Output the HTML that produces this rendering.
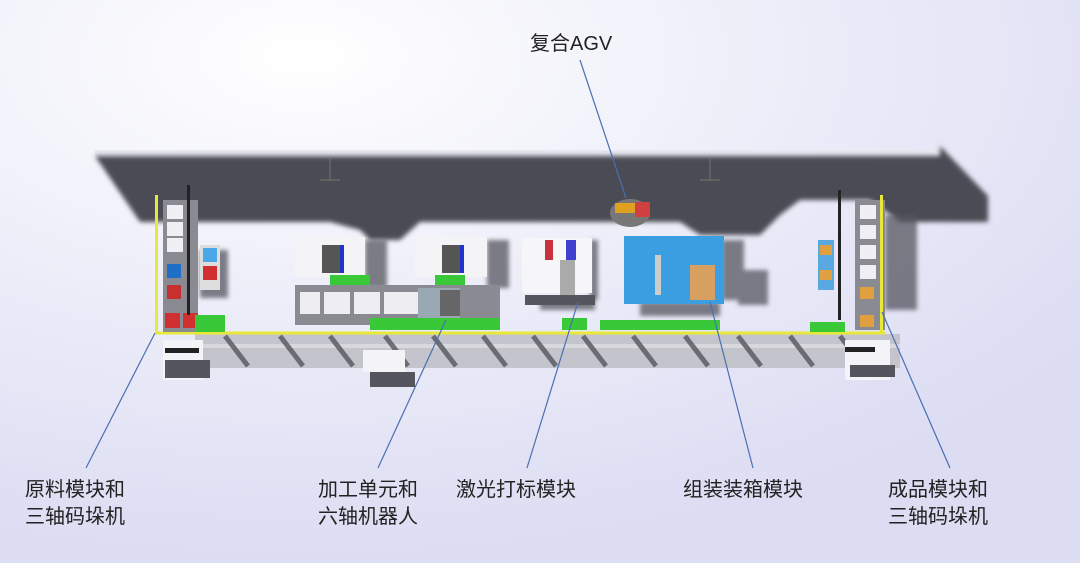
<!DOCTYPE html>
<html><head><meta charset="utf-8"><style>
html,body{margin:0;padding:0;}
body{width:1080px;height:563px;overflow:hidden;font-family:"Liberation Sans","Noto Sans CJK SC",sans-serif;}
</style></head><body>
<svg width="1080" height="563" viewBox="0 0 1080 563" xmlns="http://www.w3.org/2000/svg">
<defs>
<radialGradient id="bg" cx="0.28" cy="0.1" r="0.9">
<stop offset="0" stop-color="#ffffff"/><stop offset="0.45" stop-color="#eeeff9"/><stop offset="1" stop-color="#dcdcf3"/>
</radialGradient>
<filter id="bl" x="-10%" y="-10%" width="120%" height="130%"><feGaussianBlur stdDeviation="2.5"/></filter>
<filter id="bl2" x="-20%" y="-20%" width="140%" height="140%"><feGaussianBlur stdDeviation="2"/></filter>
</defs>
<rect width="1080" height="563" fill="url(#bg)"/>
<rect x="95" y="150" width="845" height="6" fill="#e8e8f0"/>
<polygon filter="url(#bl)" fill="#4b4b55" points="95,156 940,156 940,146 988,196 988,222 900,222 870,200 800,200 780,215 760,235 700,235 680,222 560,222 480,222 420,222 400,240 370,240 360,230 330,222 140,222"/>
<g stroke="#6b7e6b" stroke-width="1">
<line x1="330" y1="158" x2="330" y2="180"/><line x1="320" y1="180" x2="340" y2="180"/>
<line x1="710" y1="158" x2="710" y2="180"/><line x1="700" y1="180" x2="720" y2="180"/>
</g>
<!-- machine shadows -->
<g fill="#55555e" opacity="0.75" filter="url(#bl2)">
<rect x="200" y="250" width="28" height="48"/>
<rect x="365" y="240" width="22" height="48"/>
<rect x="487" y="240" width="22" height="48"/>
<rect x="590" y="240" width="8" height="60"/>
<rect x="540" y="300" width="55" height="10"/>
<rect x="722" y="240" width="22" height="60"/>
<rect x="738" y="270" width="30" height="35"/>
<rect x="640" y="302" width="80" height="14"/>
<rect x="885" y="215" width="32" height="95"/>
</g>
<!-- conveyor -->
<rect x="195" y="334" width="705" height="34" fill="#c4c4cc"/>
<rect x="195" y="344" width="705" height="4" fill="#d8d8de"/>
<g stroke="#55555e" stroke-width="5" opacity="0.8">
<line x1="225" y1="336" x2="248" y2="366"/><line x1="280" y1="336" x2="303" y2="366"/><line x1="330" y1="336" x2="353" y2="366"/>
<line x1="385" y1="336" x2="408" y2="366"/><line x1="433" y1="336" x2="456" y2="366"/><line x1="483" y1="336" x2="506" y2="366"/>
<line x1="533" y1="336" x2="556" y2="366"/><line x1="583" y1="336" x2="606" y2="366"/><line x1="633" y1="336" x2="656" y2="366"/>
<line x1="685" y1="336" x2="708" y2="366"/><line x1="738" y1="336" x2="761" y2="366"/><line x1="790" y1="336" x2="813" y2="366"/>
<line x1="840" y1="336" x2="863" y2="366"/>
</g>
<rect x="163" y="340" width="40" height="40" fill="#f4f4f8"/><rect x="165" y="348" width="34" height="5" fill="#222"/>
<rect x="165" y="360" width="45" height="18" fill="#55555e"/>
<rect x="363" y="350" width="42" height="22" fill="#f4f4f8"/><rect x="370" y="372" width="45" height="15" fill="#55555e"/>
<rect x="845" y="340" width="45" height="40" fill="#f4f4f8"/><rect x="845" y="347" width="30" height="5" fill="#222"/>
<rect x="850" y="365" width="45" height="12" fill="#55555e"/>
<line x1="155" y1="333" x2="885" y2="333" stroke="#e8e83a" stroke-width="3"/>
<!-- left stacker -->
<rect x="163" y="200" width="35" height="132" fill="#8a8a92"/>
<rect x="155" y="195" width="3" height="138" fill="#e8e83a"/>
<g fill="#f0f0f4"><rect x="167" y="205" width="16" height="14"/><rect x="167" y="222" width="16" height="14"/><rect x="167" y="238" width="16" height="14"/></g>
<rect x="167" y="264" width="14" height="14" fill="#1f6fc8"/><rect x="167" y="285" width="14" height="14" fill="#c83030"/>
<rect x="165" y="313" width="15" height="15" fill="#d03030"/><rect x="183" y="313" width="15" height="15" fill="#d03030"/>
<rect x="187" y="185" width="3" height="130" fill="#222"/>
<rect x="200" y="245" width="20" height="45" fill="#ddd"/><rect x="203" y="248" width="14" height="14" fill="#4aa8e8"/><rect x="203" y="266" width="14" height="14" fill="#d03030"/>
<rect x="195" y="315" width="30" height="17" fill="#38c838"/>
<!-- CNC machines -->
<rect x="295" y="237" width="70" height="40" fill="#f4f4f6"/><rect x="322" y="245" width="20" height="28" fill="#555"/><rect x="340" y="245" width="4" height="28" fill="#2233cc"/>
<rect x="415" y="237" width="72" height="40" fill="#f4f4f6"/><rect x="442" y="245" width="20" height="28" fill="#555"/><rect x="460" y="245" width="4" height="28" fill="#2233cc"/>
<rect x="330" y="275" width="40" height="10" fill="#38c838"/><rect x="435" y="275" width="30" height="10" fill="#38c838"/>
<!-- robot rail -->
<rect x="295" y="285" width="205" height="40" fill="#8a8a92"/>
<rect x="300" y="292" width="120" height="22" fill="#eeeef2"/>
<g fill="#8a8a92"><rect x="320" y="292" width="4" height="22"/><rect x="350" y="292" width="4" height="22"/><rect x="380" y="292" width="4" height="22"/></g>
<rect x="418" y="288" width="42" height="32" fill="#9aa8b4"/><rect x="440" y="290" width="20" height="26" fill="#666"/>
<rect x="370" y="318" width="130" height="12" fill="#38c838"/>
<!-- laser -->
<rect x="522" y="238" width="70" height="55" fill="#f6f6f8"/>
<rect x="545" y="240" width="8" height="20" fill="#c83040"/><rect x="566" y="240" width="10" height="20" fill="#4040d0"/>
<rect x="560" y="260" width="15" height="35" fill="#aaa"/>
<rect x="525" y="295" width="70" height="10" fill="#55555e"/>
<rect x="562" y="318" width="25" height="12" fill="#38c838"/>
<!-- AGV -->
<ellipse cx="630" cy="213" rx="20" ry="14" fill="#777"/>
<rect x="615" y="203" width="20" height="10" fill="#e0a020"/><rect x="635" y="202" width="15" height="15" fill="#d04040"/>
<!-- assembly -->
<rect x="624" y="236" width="100" height="68" fill="#3a9ee0"/>
<rect x="690" y="265" width="25" height="35" fill="#d8a060"/>
<rect x="655" y="255" width="6" height="40" fill="#ccc"/>
<rect x="600" y="320" width="120" height="10" fill="#38c838"/>
<!-- right stacker -->
<rect x="838" y="190" width="3" height="130" fill="#222"/>
<rect x="855" y="200" width="30" height="130" fill="#8a8a92"/>
<g fill="#f0f0f4"><rect x="860" y="205" width="16" height="14"/><rect x="860" y="225" width="16" height="14"/><rect x="860" y="245" width="16" height="14"/><rect x="860" y="265" width="16" height="14"/></g>
<rect x="860" y="287" width="14" height="12" fill="#e0a040"/><rect x="860" y="315" width="14" height="12" fill="#e0a040"/>
<rect x="880" y="195" width="3" height="138" fill="#e8e83a"/>
<rect x="818" y="240" width="16" height="50" fill="#5aa8e0"/><rect x="820" y="245" width="12" height="10" fill="#e0a040"/><rect x="820" y="270" width="12" height="10" fill="#e0a040"/>
<rect x="810" y="322" width="35" height="10" fill="#38c838"/>
<!-- leader lines -->
<g stroke="#4a6fb0" stroke-width="1.2">
<line x1="580" y1="60" x2="626" y2="198"/>
<line x1="86" y1="468" x2="155" y2="333"/>
<line x1="378" y1="468" x2="446" y2="320"/>
<line x1="527" y1="468" x2="578" y2="302"/>
<line x1="753" y1="468" x2="710" y2="302"/>
<line x1="950" y1="468" x2="882" y2="312"/>
</g>
<g font-size="20" fill="#222" font-family="Liberation Sans, Noto Sans CJK SC, sans-serif">
<text x="530" y="50">复合AGV</text>
<text x="25" y="496">原料模块和</text><text x="25" y="523">三轴码垛机</text>
<text x="318" y="496">加工单元和</text><text x="318" y="523">六轴机器人</text>
<text x="456" y="496">激光打标模块</text>
<text x="683" y="496">组装装箱模块</text>
<text x="888" y="496">成品模块和</text><text x="888" y="523">三轴码垛机</text>
</g>
</svg>
</body></html>
